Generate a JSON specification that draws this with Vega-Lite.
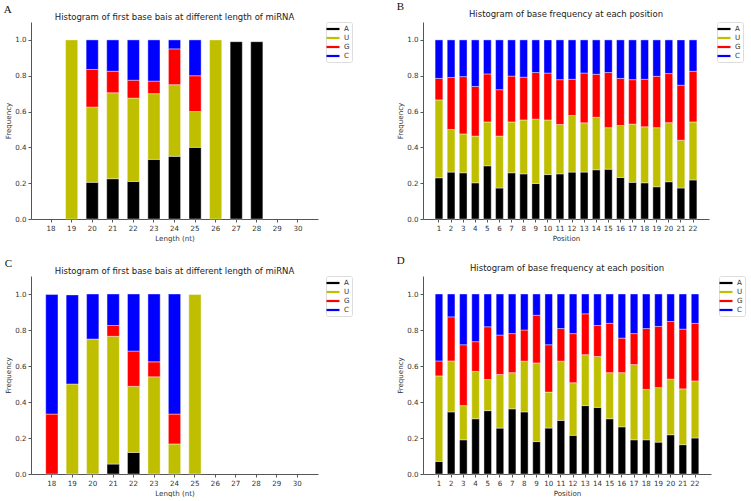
{
  "$schema": "https://vega.github.io/schema/vega-lite/v6.json",
  "background": "white",
  "padding": {"left": 3, "top": 0, "right": 0, "bottom": 0},
  "config": {
    "view": {"stroke": null},
    "font": "DejaVu Sans",
    "axis": {
      "grid": false,
      "domainColor": "#555",
      "tickColor": "#555",
      "labelColor": "#333",
      "titleColor": "#333",
      "labelFontSize": 7.1,
      "titleFontSize": 7.1,
      "titleFontWeight": "normal",
      "tickSize": 3,
      "labelPadding": 2,
      "titlePadding": 3
    },
    "title": {"fontSize": 8.5, "fontWeight": "normal", "color": "#222", "offset": 1},
    "legend": {
      "strokeColor": "#ddd",
      "cornerRadius": 2,
      "padding": 2,
      "labelFontSize": 7.1,
      "labelColor": "#333",
      "symbolType": "M-1.3,-0.22H1.3V0.22H-1.3Z",
      "symbolSize": 100,
      "symbolStrokeWidth": 0,
      "rowPadding": 0,
      "labelOffset": 6,
      "offset": 8
    }
  },
  "datasets": {
    "lengthTop": [
      {"len": 19, "U": 1.0},
      {"len": 20, "A": 0.205, "U": 0.42, "G": 0.21, "C": 0.165},
      {"len": 21, "A": 0.225, "U": 0.48, "G": 0.12, "C": 0.175},
      {"len": 22, "A": 0.21, "U": 0.465, "G": 0.1, "C": 0.225},
      {"len": 23, "A": 0.333, "U": 0.367, "G": 0.07, "C": 0.23},
      {"len": 24, "A": 0.35, "U": 0.4, "G": 0.2, "C": 0.05},
      {"len": 25, "A": 0.4, "U": 0.2, "G": 0.2, "C": 0.2},
      {"len": 26, "U": 1.0},
      {"len": 27, "A": 0.99},
      {"len": 28, "A": 0.99}
    ],
    "positionTop": [
      {"pos": 1, "A": 0.23, "U": 0.435, "G": 0.12, "C": 0.215},
      {"pos": 2, "A": 0.262, "U": 0.238, "G": 0.29, "C": 0.21},
      {"pos": 3, "A": 0.258, "U": 0.217, "G": 0.32, "C": 0.205},
      {"pos": 4, "A": 0.202, "U": 0.261, "G": 0.277, "C": 0.26},
      {"pos": 5, "A": 0.297, "U": 0.245, "G": 0.268, "C": 0.19},
      {"pos": 6, "A": 0.173, "U": 0.29, "G": 0.259, "C": 0.278},
      {"pos": 7, "A": 0.258, "U": 0.284, "G": 0.256, "C": 0.202},
      {"pos": 8, "A": 0.252, "U": 0.301, "G": 0.239, "C": 0.208},
      {"pos": 9, "A": 0.198, "U": 0.36, "G": 0.26, "C": 0.182},
      {"pos": 10, "A": 0.248, "U": 0.305, "G": 0.262, "C": 0.185},
      {"pos": 11, "A": 0.252, "U": 0.276, "G": 0.25, "C": 0.222},
      {"pos": 12, "A": 0.262, "U": 0.316, "G": 0.202, "C": 0.22},
      {"pos": 13, "A": 0.262, "U": 0.275, "G": 0.278, "C": 0.185},
      {"pos": 14, "A": 0.275, "U": 0.293, "G": 0.24, "C": 0.192},
      {"pos": 15, "A": 0.278, "U": 0.232, "G": 0.308, "C": 0.182},
      {"pos": 16, "A": 0.232, "U": 0.29, "G": 0.263, "C": 0.215},
      {"pos": 17, "A": 0.205, "U": 0.325, "G": 0.248, "C": 0.222},
      {"pos": 18, "A": 0.202, "U": 0.313, "G": 0.265, "C": 0.22},
      {"pos": 19, "A": 0.18, "U": 0.33, "G": 0.287, "C": 0.203},
      {"pos": 20, "A": 0.208, "U": 0.33, "G": 0.274, "C": 0.188},
      {"pos": 21, "A": 0.173, "U": 0.267, "G": 0.307, "C": 0.253},
      {"pos": 22, "A": 0.218, "U": 0.324, "G": 0.283, "C": 0.175}
    ],
    "lengthBottom": [
      {"len": 18, "G": 0.333, "C": 0.664},
      {"len": 19, "U": 0.5, "C": 0.495},
      {"len": 20, "U": 0.75, "C": 0.25},
      {"len": 21, "A": 0.055, "U": 0.71, "G": 0.06, "C": 0.175},
      {"len": 22, "A": 0.12, "U": 0.367, "G": 0.196, "C": 0.317},
      {"len": 23, "U": 0.54, "G": 0.083, "C": 0.377},
      {"len": 24, "U": 0.167, "G": 0.166, "C": 0.667},
      {"len": 25, "U": 0.997}
    ],
    "positionBottom": [
      {"pos": 1, "A": 0.07, "U": 0.475, "G": 0.083, "C": 0.372},
      {"pos": 2, "A": 0.345, "U": 0.283, "G": 0.245, "C": 0.127},
      {"pos": 3, "A": 0.19, "U": 0.19, "G": 0.338, "C": 0.282},
      {"pos": 4, "A": 0.307, "U": 0.263, "G": 0.165, "C": 0.265},
      {"pos": 5, "A": 0.352, "U": 0.173, "G": 0.293, "C": 0.182},
      {"pos": 6, "A": 0.255, "U": 0.298, "G": 0.219, "C": 0.228},
      {"pos": 7, "A": 0.362, "U": 0.201, "G": 0.217, "C": 0.22},
      {"pos": 8, "A": 0.345, "U": 0.282, "G": 0.173, "C": 0.2},
      {"pos": 9, "A": 0.18, "U": 0.437, "G": 0.265, "C": 0.118},
      {"pos": 10, "A": 0.255, "U": 0.2, "G": 0.263, "C": 0.282},
      {"pos": 11, "A": 0.298, "U": 0.329, "G": 0.181, "C": 0.192},
      {"pos": 12, "A": 0.215, "U": 0.292, "G": 0.273, "C": 0.22},
      {"pos": 13, "A": 0.38, "U": 0.283, "G": 0.227, "C": 0.11},
      {"pos": 14, "A": 0.37, "U": 0.283, "G": 0.172, "C": 0.175},
      {"pos": 15, "A": 0.307, "U": 0.256, "G": 0.274, "C": 0.163},
      {"pos": 16, "A": 0.262, "U": 0.301, "G": 0.192, "C": 0.245},
      {"pos": 17, "A": 0.19, "U": 0.418, "G": 0.172, "C": 0.22},
      {"pos": 18, "A": 0.19, "U": 0.28, "G": 0.338, "C": 0.192},
      {"pos": 19, "A": 0.177, "U": 0.303, "G": 0.34, "C": 0.18},
      {"pos": 20, "A": 0.218, "U": 0.309, "G": 0.32, "C": 0.153},
      {"pos": 21, "A": 0.163, "U": 0.31, "G": 0.332, "C": 0.195},
      {"pos": 22, "A": 0.2, "U": 0.317, "G": 0.32, "C": 0.163}
    ]
  },
  "resolve": {"scale": {"color": "independent", "x": "independent", "y": "independent"}, "legend": {"color": "independent"}},
  "spacing": 12,
  "vconcat": [
    {
      "spacing": 43,
      "resolve": {"scale": {"color": "independent", "x": "independent", "y": "independent"}, "legend": {"color": "independent"}},
      "hconcat": [
        {
          "title": {"text": "A", "anchor": "start", "frame": "bounds", "font": "Liberation Serif", "fontSize": 11, "color": "#111", "offset": -2, "dx": -1},
          "vconcat": [
            {
              "title": "Histogram of first base bais at different length of miRNA",
              "width": 287,
              "height": 197,
              "data": {"name": "lengthTop"},
              "transform": [
                {"fold": ["A", "U", "G", "C"], "as": ["base", "freq"]},
                {"filter": "datum.freq > 0"},
                {"calculate": "indexof(['A','U','G','C'], datum.base)", "as": "stackOrder"}
              ],
              "mark": {"type": "bar", "stroke": "white", "strokeWidth": 0.4},
              "encoding": {
                "x": {"field": "len", "type": "ordinal", "scale": {"domain": [18, 19, 20, 21, 22, 23, 24, 25, 26, 27, 28, 29, 30], "paddingInner": 0.41, "paddingOuter": 0.68}, "axis": {"title": "Length (nt)", "labelAngle": 0}},
                "y": {"field": "freq", "type": "quantitative", "stack": "zero", "scale": {"domain": [0, 1.1], "nice": false}, "axis": {"title": "Frequency", "values": [0, 0.2, 0.4, 0.6, 0.8, 1.0], "format": ".1f"}},
                "color": {"field": "base", "type": "nominal", "scale": {"domain": ["A", "U", "G", "C"], "range": ["#000000", "#bfbf00", "#ff0000", "#0000ff"]}, "legend": {"title": null}},
                "order": {"field": "stackOrder"}
              }
            }
          ]
        },
        {
          "title": {"text": "B", "anchor": "start", "frame": "bounds", "font": "Liberation Serif", "fontSize": 11, "color": "#111", "offset": -2},
          "vconcat": [
            {
              "title": {"text": "Histogram of base frequency at each position", "offset": 4},
              "width": 286,
              "height": 197,
              "data": {"name": "positionTop"},
              "transform": [
                {"fold": ["A", "U", "G", "C"], "as": ["base", "freq"]},
                {"filter": "datum.freq > 0"},
                {"calculate": "indexof(['A','U','G','C'], datum.base)", "as": "stackOrder"}
              ],
              "mark": {"type": "bar", "stroke": "white", "strokeWidth": 0.4},
              "encoding": {
                "x": {"field": "pos", "type": "ordinal", "scale": {"paddingInner": 0.36, "paddingOuter": 1.06}, "axis": {"title": "Position", "labelAngle": 0}},
                "y": {"field": "freq", "type": "quantitative", "stack": "zero", "scale": {"domain": [0, 1.1], "nice": false}, "axis": {"title": "Frequency", "values": [0, 0.2, 0.4, 0.6, 0.8, 1.0], "format": ".1f"}},
                "color": {"field": "base", "type": "nominal", "scale": {"domain": ["A", "U", "G", "C"], "range": ["#000000", "#bfbf00", "#ff0000", "#0000ff"]}, "legend": {"title": null}},
                "order": {"field": "stackOrder"}
              }
            }
          ]
        }
      ]
    },
    {
      "spacing": 43,
      "resolve": {"scale": {"color": "independent", "x": "independent", "y": "independent"}, "legend": {"color": "independent"}},
      "hconcat": [
        {
          "title": {"text": "C", "anchor": "start", "frame": "bounds", "font": "Liberation Serif", "fontSize": 11, "color": "#111", "offset": -2},
          "vconcat": [
            {
              "title": "Histogram of first base bais at different length of miRNA",
              "width": 287,
              "height": 198,
              "data": {"name": "lengthBottom"},
              "transform": [
                {"fold": ["A", "U", "G", "C"], "as": ["base", "freq"]},
                {"filter": "datum.freq > 0"},
                {"calculate": "indexof(['A','U','G','C'], datum.base)", "as": "stackOrder"}
              ],
              "mark": {"type": "bar", "stroke": "white", "strokeWidth": 0.4},
              "encoding": {
                "x": {"field": "len", "type": "ordinal", "scale": {"domain": [18, 19, 20, 21, 22, 23, 24, 25, 26, 27, 28, 29, 30], "paddingInner": 0.4, "paddingOuter": 0.72}, "axis": {"title": "Length (nt)", "labelAngle": 0}},
                "y": {"field": "freq", "type": "quantitative", "stack": "zero", "scale": {"domain": [0, 1.1], "nice": false}, "axis": {"title": "Frequency", "values": [0, 0.2, 0.4, 0.6, 0.8, 1.0], "format": ".1f"}},
                "color": {"field": "base", "type": "nominal", "scale": {"domain": ["A", "U", "G", "C"], "range": ["#000000", "#bfbf00", "#ff0000", "#0000ff"]}, "legend": {"title": null}},
                "order": {"field": "stackOrder"}
              }
            }
          ]
        },
        {
          "title": {"text": "D", "anchor": "start", "frame": "bounds", "font": "Liberation Serif", "fontSize": 11, "color": "#111", "offset": -2},
          "vconcat": [
            {
              "title": {"text": "Histogram of base frequency at each position", "offset": 4},
              "width": 288,
              "height": 198,
              "data": {"name": "positionBottom"},
              "transform": [
                {"fold": ["A", "U", "G", "C"], "as": ["base", "freq"]},
                {"filter": "datum.freq > 0"},
                {"calculate": "indexof(['A','U','G','C'], datum.base)", "as": "stackOrder"}
              ],
              "mark": {"type": "bar", "stroke": "white", "strokeWidth": 0.4},
              "encoding": {
                "x": {"field": "pos", "type": "ordinal", "scale": {"paddingInner": 0.38, "paddingOuter": 1.16}, "axis": {"title": "Position", "labelAngle": 0}},
                "y": {"field": "freq", "type": "quantitative", "stack": "zero", "scale": {"domain": [0, 1.1], "nice": false}, "axis": {"title": "Frequency", "values": [0, 0.2, 0.4, 0.6, 0.8, 1.0], "format": ".1f"}},
                "color": {"field": "base", "type": "nominal", "scale": {"domain": ["A", "U", "G", "C"], "range": ["#000000", "#bfbf00", "#ff0000", "#0000ff"]}, "legend": {"title": null}},
                "order": {"field": "stackOrder"}
              }
            }
          ]
        }
      ]
    }
  ]
}
